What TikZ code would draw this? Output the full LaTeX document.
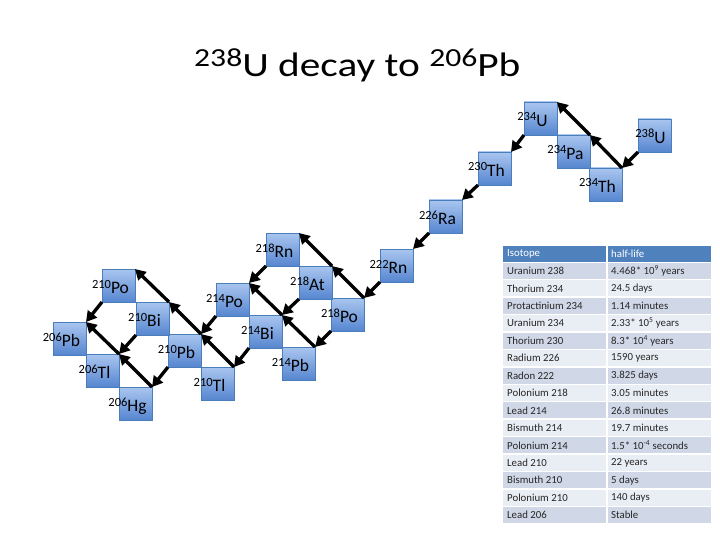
\documentclass[tikz,border=0pt]{standalone}
\usepackage{fontspec}
\setmainfont{Carlito}
\usetikzlibrary{arrows.meta}
\definecolor{boxtop}{RGB}{170,198,240}
\definecolor{boxbot}{RGB}{86,134,208}
\definecolor{boxline}{RGB}{74,126,187}
\definecolor{hdr}{RGB}{79,129,189}
\definecolor{rowa}{RGB}{208,216,232}
\definecolor{rowb}{RGB}{233,237,244}
\newcommand{\iso}[2]{{\fontsize{12.5}{12.5}\selectfont\raisebox{5.5pt}{#1}}{\fontsize{17.5}{17.5}\selectfont #2}}
\newcommand{\ttlsup}[1]{{\fontsize{26}{26}\selectfont\raisebox{10pt}{#1}}}
\begin{document}
\begin{tikzpicture}[x=1pt,y=-1pt,
  isobox/.style={rectangle, draw=boxline, line width=0.6pt, top color=boxtop, bottom color=boxbot,
    minimum width=33pt, minimum height=33pt, inner sep=0pt, outer sep=0pt, anchor=north west},
  lbl/.style={anchor=base, inner sep=0pt, text=black},
  arr/.style={line width=3.3pt, -{Triangle[length=10.5pt,width=11.5pt]}},
  ttl/.style={anchor=base west, inner sep=0pt},
  cell/.style={anchor=west, inner sep=0pt, font=\fontsize{10.8}{10.8}\selectfont, text=black!85}]
\useasboundingbox (0,0) rectangle (720,540);
% title
\node[ttl] (title) at (194,77) {\scalebox{1.216}[1]{\fontsize{34}{34}\selectfont\ttlsup{238}U decay to \ttlsup{206}Pb}};
% boxes
\node[isobox] (U238) at (638,119) {};
\node[isobox] (Th234) at (589,168) {};
\node[isobox] (Pa234) at (557,135) {};
\node[isobox] (U234) at (524,102) {};
\node[isobox] (Th230) at (478,152) {};
\node[isobox] (Ra226) at (429,200) {};
\node[isobox] (Rn222) at (380,249) {};
\node[isobox] (Po218) at (331,298) {};
\node[isobox] (At218) at (299,266) {};
\node[isobox] (Rn218) at (266,233) {};
\node[isobox] (Pb214) at (282,347) {};
\node[isobox] (Bi214) at (249,315) {};
\node[isobox] (Po214) at (216,283) {};
\node[isobox] (Tl210) at (201,367) {};
\node[isobox] (Pb210) at (168,334) {};
\node[isobox] (Bi210) at (136,302) {};
\node[isobox] (Po210) at (102,269) {};
\node[isobox] (Hg206) at (119,387) {};
\node[isobox] (Tl206) at (86,354) {};
\node[isobox] (Pb206) at (53,322) {};
% labels
\node[lbl] (lU238) at ([xshift=-4pt,yshift=-8pt]U238.center) {\iso{238}{U}};
\node[lbl] (lTh234) at ([xshift=-8pt,yshift=-8pt]Th234.center) {\iso{234}{Th}};
\node[lbl] (lPa234) at ([xshift=-8pt,yshift=-8pt]Pa234.center) {\iso{234}{Pa}};
\node[lbl] (lU234) at ([xshift=-8pt,yshift=-8pt]U234.center) {\iso{234}{U}};
\node[lbl] (lTh230) at ([xshift=-8pt,yshift=-8pt]Th230.center) {\iso{230}{Th}};
\node[lbl] (lRa226) at ([xshift=-8pt,yshift=-8pt]Ra226.center) {\iso{226}{Ra}};
\node[lbl] (lRn222) at ([xshift=-8pt,yshift=-8pt]Rn222.center) {\iso{222}{Rn}};
\node[lbl] (lPo218) at ([xshift=-8pt,yshift=-8pt]Po218.center) {\iso{218}{Po}};
\node[lbl] (lAt218) at ([xshift=-8pt,yshift=-8pt]At218.center) {\iso{218}{At}};
\node[lbl] (lRn218) at ([xshift=-8pt,yshift=-8pt]Rn218.center) {\iso{218}{Rn}};
\node[lbl] (lPb214) at ([xshift=-8pt,yshift=-8pt]Pb214.center) {\iso{214}{Pb}};
\node[lbl] (lBi214) at ([xshift=-8pt,yshift=-8pt]Bi214.center) {\iso{214}{Bi}};
\node[lbl] (lPo214) at ([xshift=-8pt,yshift=-8pt]Po214.center) {\iso{214}{Po}};
\node[lbl] (lTl210) at ([xshift=-8pt,yshift=-8pt]Tl210.center) {\iso{210}{Tl}};
\node[lbl] (lPb210) at ([xshift=-8pt,yshift=-8pt]Pb210.center) {\iso{210}{Pb}};
\node[lbl] (lBi210) at ([xshift=-8pt,yshift=-8pt]Bi210.center) {\iso{210}{Bi}};
\node[lbl] (lPo210) at ([xshift=-8pt,yshift=-8pt]Po210.center) {\iso{210}{Po}};
\node[lbl] (lHg206) at ([xshift=-8pt,yshift=-8pt]Hg206.center) {\iso{206}{Hg}};
\node[lbl] (lTl206) at ([xshift=-8pt,yshift=-8pt]Tl206.center) {\iso{206}{Tl}};
\node[lbl] (lPb206) at ([xshift=-8pt,yshift=-8pt]Pb206.center) {\iso{206}{Pb}};
% alpha decays
\draw[arr] (U238.south west) -- (Th234.north east);
\draw[arr] (U234.south west) -- (Th230.north east);
\draw[arr] (Th230.south west) -- (Ra226.north east);
\draw[arr] (Ra226.south west) -- (Rn222.north east);
\draw[arr] (Rn222.south west) -- (Po218.north east);
\draw[arr] (Po218.south west) -- (Pb214.north east);
\draw[arr] (At218.south west) -- (Bi214.north east);
\draw[arr] (Rn218.south west) -- (Po214.north east);
\draw[arr] (Bi214.south west) -- (Tl210.north east);
\draw[arr] (Po214.south west) -- (Pb210.north east);
\draw[arr] (Po210.south west) -- (Pb206.north east);
\draw[arr] (Bi210.south west) -- (Tl206.north east);
\draw[arr] (Pb210.south west) -- (Hg206.north east);
% beta decays
\draw[arr] (Th234.north east) -- (Pa234.north east);
\draw[arr] (Pa234.north east) -- (U234.north east);
\draw[arr] (Po218.north east) -- (At218.north east);
\draw[arr] (At218.north east) -- (Rn218.north east);
\draw[arr] (Pb214.north east) -- (Bi214.north east);
\draw[arr] (Bi214.north east) -- (Po214.north east);
\draw[arr] (Tl210.north east) -- (Pb210.north east);
\draw[arr] (Pb210.north east) -- (Bi210.north east);
\draw[arr] (Bi210.north east) -- (Po210.north east);
\draw[arr] (Hg206.north east) -- (Tl206.north east);
\draw[arr] (Tl206.north east) -- (Pb206.north east);
% table
\fill[hdr] (503,245.5) rectangle (606,261.5);
\fill[hdr] (607.5,245.5) rectangle (711,261.5);
\foreach \i in {1,3,...,15}{
  \fill[rowa] (503,245.5+\i*17.44) rectangle (606,261.5+\i*17.44);
  \fill[rowa] (607.5,245.5+\i*17.44) rectangle (711,261.5+\i*17.44);}
\foreach \i in {2,4,...,14}{
  \fill[rowb] (503,245.5+\i*17.44) rectangle (606,261.5+\i*17.44);
  \fill[rowb] (607.5,245.5+\i*17.44) rectangle (711,261.5+\i*17.44);}
\node[cell, text=white] (h1) at (507,253.5) {Isotope};
\node[cell, text=white] (h2) at (611,253.5) {half-life};
\foreach \a/\b [count=\i] in {Uranium 238/4.468* 10\textsuperscript{9} years,
  Thorium 234/24.5 days,
  Protactinium 234/1.14 minutes,
  Uranium 234/2.33* 10\textsuperscript{5} years,
  Thorium 230/8.3* 10\textsuperscript{4} years,
  Radium 226/1590 years,
  Radon 222/3.825 days,
  Polonium 218/3.05 minutes,
  Lead 214/26.8 minutes,
  Bismuth 214/19.7 minutes,
  Polonium 214/1.5* 10\textsuperscript{-4} seconds,
  Lead 210/22 years,
  Bismuth 210/5 days,
  Polonium 210/140 days,
  Lead 206/Stable}{
  \node[cell] (L\i) at (507,253.5+\i*17.44) {\a};
  \node[cell] (R\i) at (611,253.5+\i*17.44) {\b};
}
\end{tikzpicture}
\end{document}
